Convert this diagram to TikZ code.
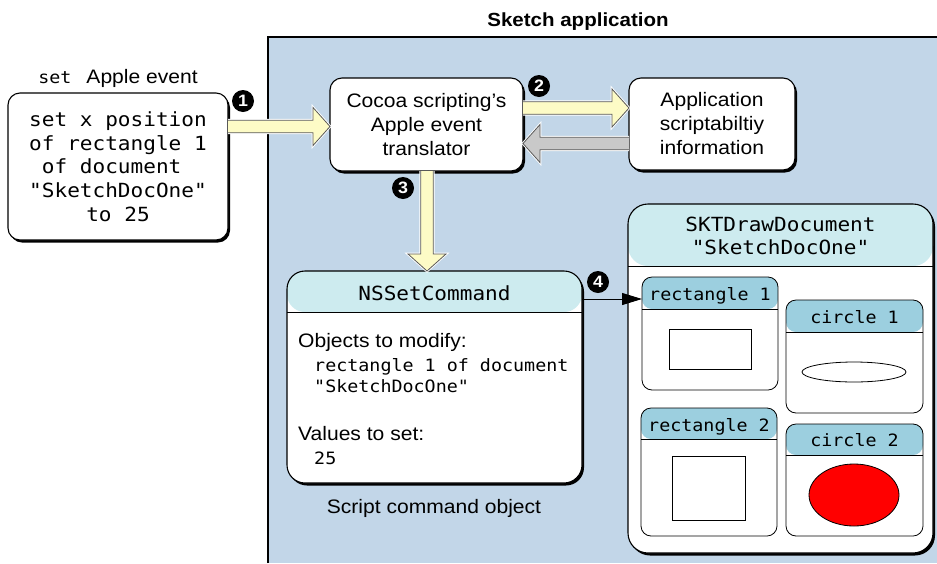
\documentclass[tikz,border=0pt]{standalone}
\usepackage{fontspec}
\setmainfont{Liberation Sans}[FakeStretch=1.08]
\newfontfamily\mymono{DejaVu Sans Mono}[FakeStretch=1.08]
\usetikzlibrary{calc,shadows,arrows.meta,shapes.geometric}
\definecolor{panel}{HTML}{C2D6E8}
\definecolor{hdrlight}{HTML}{CDEBEF}
\definecolor{hdrdark}{HTML}{9CCFDF}
\definecolor{yarrow}{HTML}{FDFBC6}
\definecolor{garrow}{HTML}{C9C9C9}
\newcommand\mysans{\normalfont\fontsize{19.5}{24}\selectfont}
\newcommand\monoL{\mymono\fontsize{19.5}{23.7}\selectfont}
\newcommand\monoS{\mymono\fontsize{17}{21}\selectfont}
\tikzset{
  box/.style={draw=black, line width=1.1pt, fill=white, rounded corners=12pt,
    inner sep=0pt, outer sep=0pt,
    drop shadow={shadow xshift=2pt, shadow yshift=-2.5pt, fill=black, opacity=1}},
  innerbox/.style={draw=black, line width=0.8pt, fill=white, rounded corners=10pt,
    inner sep=0pt, outer sep=0pt},
  hdr/.style 2 args={path picture={
    \fill[#1] (path picture bounding box.north west) rectangle ([yshift=-#2]path picture bounding box.north east);
    \draw[line width=0.8pt] ([yshift=-#2]path picture bounding box.north west) -- ([yshift=-#2]path picture bounding box.north east);}},
  num/.style={circle, fill=black, minimum size=22pt, inner sep=0pt, text=white,
    font=\bfseries\fontsize{16.5}{16.5}\selectfont},
  fatarr/.style={draw=black!65, line width=0.8pt, preaction={draw=white, line width=2.6pt}},
  shapeline/.style={draw=black, line width=0.8pt, inner sep=0pt, outer sep=0pt},
}
\newcommand\fatarrow[3]{%
  \path ($(#2)!17pt!(#1)$) coordinate (fah);
  \filldraw[fatarr, fill=#3] ($(#1)!6.25pt!90:(#2)$) -- ($(fah)!6.25pt!90:(#2)$)
    -- ($(fah)!19pt!90:(#2)$) -- (#2) -- ($(fah)!19pt!-90:(#2)$)
    -- ($(fah)!6.25pt!-90:(#2)$) -- ($(#1)!6.25pt!-90:(#2)$);
}
\begin{document}
\begin{tikzpicture}[x=1pt,y=-1pt]
\useasboundingbox (0,0) rectangle (937,563);
% application panel
\fill[panel] (268,37) rectangle (937,563);
\draw[line width=1.2pt] (268,563) -- (268,37) -- (937,37);
\node[font=\bfseries\fontsize{19}{22}\selectfont, anchor=base] (title) at (578,26.5) {Sketch application};

% set Apple event
\node[anchor=base] (setlbl) at (118,83) {{\monoS set}\hspace{15pt}{\mysans Apple event}};
\node[box, minimum width=220pt, minimum height=147pt, align=center, font=\monoL] (left) at (118,166.5)
  {set x position\\of rectangle 1\\of document\hphantom{x}\\"SketchDocOne"\\to 25};

% translator and scriptability info
\node[box, minimum width=193pt, minimum height=93pt, align=center, font=\mysans] (cocoa) at (426.5,124.5)
  {Cocoa scripting’s\\Apple event\\translator};
\node[box, minimum width=166pt, minimum height=92pt, align=center, font=\mysans] (app) at (712,124)
  {Application\\scriptabiltiy\\information};

% NSSetCommand
\node[box, rounded corners=18pt, minimum width=295pt, minimum height=212pt, hdr={hdrlight}{41pt}] (ns) at (434.5,377) {};
\node[font=\monoL, anchor=base] (nstitle) at (434.5,300.5) {NSSetCommand};
\node[font=\mysans, anchor=base west, inner sep=0pt] (objlbl) at (298,347) {Objects to modify:};
\node[font=\monoS, anchor=base west, inner sep=0pt] (objv1) at (314,371) {rectangle 1 of document};
\node[font=\monoS, anchor=base west, inner sep=0pt] (objv2) at (314,392) {"SketchDocOne"};
\node[font=\mysans, anchor=base west, inner sep=0pt] (vallbl) at (298,440) {Values to set:};
\node[font=\monoS, anchor=base west, inner sep=0pt] (valv) at (314,464) {25};
\node[font=\mysans, anchor=base] (nscap) at (434,513) {Script command object};

% SKTDrawDocument
\node[box, rounded corners=20pt, minimum width=305pt, minimum height=349pt, hdr={hdrlight}{62pt}] (skt) at (780.5,378.5) {};
\node[font=\mymono\fontsize{19.5}{23}\selectfont, align=center] (skttitle) at (780.5,236) {SKTDrawDocument\\"SketchDocOne"};

\node[innerbox, minimum width=136pt, minimum height=113pt, hdr={hdrdark}{32pt}] (r1) at (710,333.5) {};
\node[font=\monoS, anchor=base] (r1t) at (710,300) {rectangle 1};
\node[shapeline, minimum width=82pt, minimum height=40pt] (r1s) at (710,349) {};

\node[innerbox, minimum width=137pt, minimum height=113pt, hdr={hdrdark}{32pt}] (c1) at (854.5,356.5) {};
\node[font=\monoS, anchor=base] (c1t) at (854.5,323) {circle 1};
\node[shapeline, ellipse, minimum width=104pt, minimum height=20pt, fill=white] (c1s) at (854,372) {};

\node[innerbox, minimum width=136pt, minimum height=128pt, hdr={hdrdark}{31pt}] (r2) at (709,472) {};
\node[font=\monoS, anchor=base] (r2t) at (709,431) {rectangle 2};
\node[shapeline, minimum width=73pt, minimum height=64pt] (r2s) at (708.5,488) {};

\node[innerbox, minimum width=137pt, minimum height=112pt, hdr={hdrdark}{31pt}] (c2) at (854.5,480) {};
\node[font=\monoS, anchor=base] (c2t) at (854.5,446) {circle 2};
\node[shapeline, ellipse, minimum width=90pt, minimum height=62pt, fill=red] (c2s) at (854,495) {};

% block arrows
\coordinate (a1s) at (left.east |- 0,126.5);
\coordinate (a1e) at (cocoa.west |- 0,126.5);
\fatarrow{a1s}{a1e}{yarrow}
\coordinate (a2s) at (cocoa.east |- 0,108);
\coordinate (a2e) at (app.west |- 0,108);
\fatarrow{a2s}{a2e}{yarrow}
\coordinate (agS) at (app.west |- 0,143.5);
\coordinate (agE) at (cocoa.east |- 0,143.5);
\fatarrow{agS}{agE}{garrow}
\coordinate (a3s) at (cocoa.south -| 427,0);
\coordinate (a3e) at (ns.north -| 427,0);
\fatarrow{a3s}{a3e}{yarrow}

% arrow 4
\coordinate (a4s) at (ns.east |- 0,299);
\coordinate (a4e) at (r1.west |- 0,299);
\draw[line width=1pt, -{Triangle[length=20pt,width=12pt]}] (a4s) -- (a4e);

% step numbers
\node[num] (n1) at (243,101) {1};
\node[num] (n2) at (539,86) {2};
\node[num] (n3) at (403,188) {3};
\node[num] (n4) at (598,282) {4};
\end{tikzpicture}
\end{document}
